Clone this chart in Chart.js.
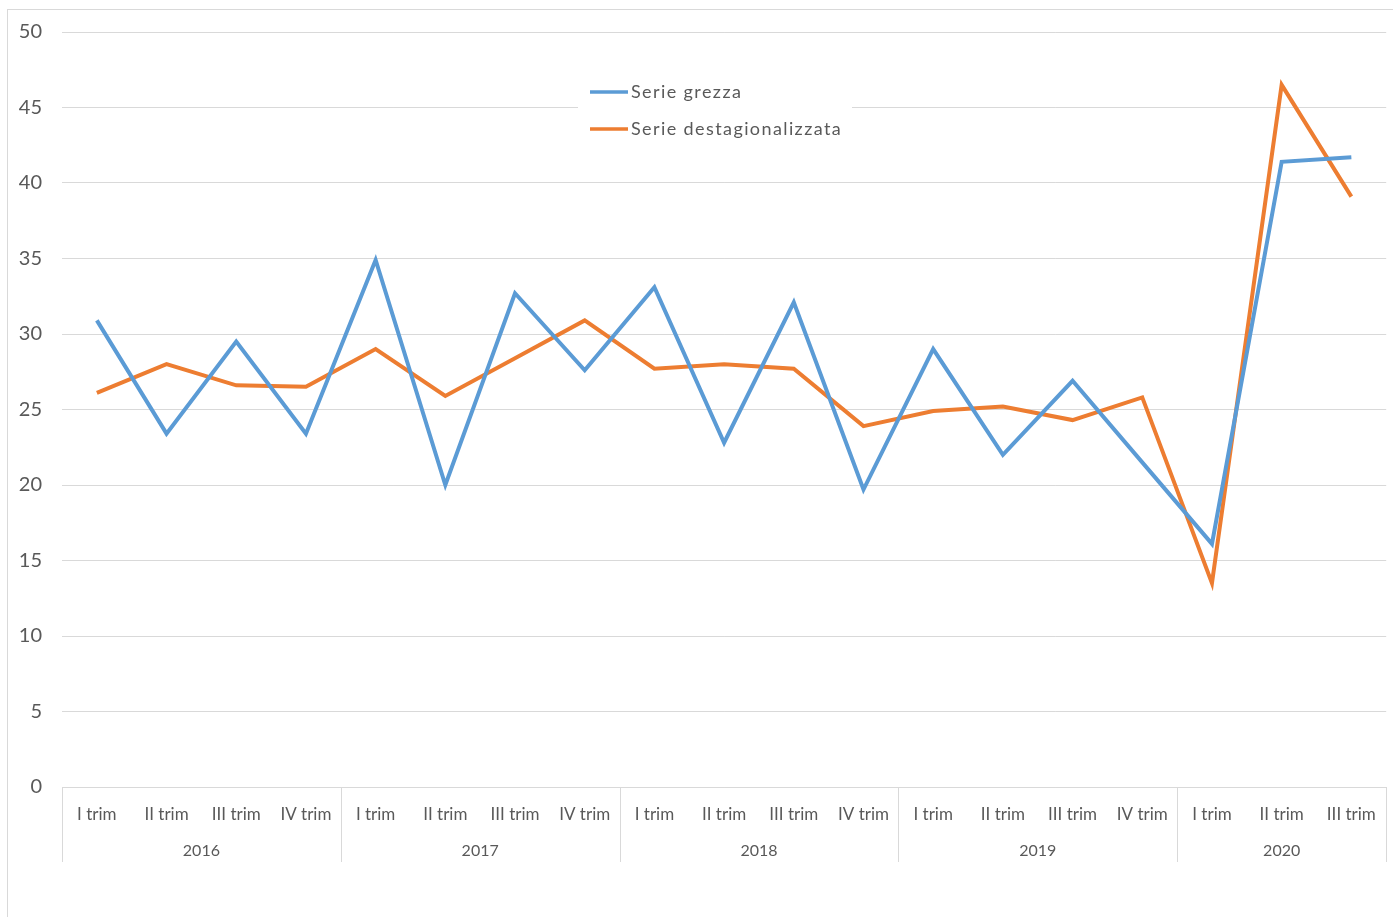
<!DOCTYPE html>
<html>
<head>
<meta charset="utf-8">
<script src="https://cdn.jsdelivr.net/npm/chart.js@4"></script>
<style>
  html, body { margin: 0; padding: 0; background: #fff; }
  #wrap { width: 1393px; height: 917px; }
</style>
</head>
<body>
<div id="wrap"><canvas id="trimChart"></canvas></div>
<script>
// Quarters and years
const quarters = ['I trim', 'II trim', 'III trim', 'IV trim',
                  'I trim', 'II trim', 'III trim', 'IV trim',
                  'I trim', 'II trim', 'III trim', 'IV trim',
                  'I trim', 'II trim', 'III trim', 'IV trim',
                  'I trim', 'II trim', 'III trim'];
const years = ['2016', '2017', '2018', '2019', '2020'];
const quartersPerYear = [4, 4, 4, 4, 3];

// Series values
const serieGrezza = [30.9, 23.4, 29.5, 23.4, 34.9, 20.0, 32.7, 27.6, 33.1, 22.8,
                     32.1, 19.7, 29.0, 22.0, 26.9, 21.5, 16.1, 41.4, 41.7];
const serieDestag = [26.1, 28.0, 26.6, 26.5, 29.0, 25.9, 28.4, 30.9, 27.7, 28.0,
                     27.7, 23.9, 24.9, 25.2, 24.3, 25.8, 13.5, 46.5, 39.1];

const textColor = '#595959';
const gridColor = '#d9d9d9';
const fontFamily = 'Lato, "Open Sans", sans-serif';

// Outer frame of the chart object
const framePlugin = {
    id: 'frame',
    beforeDraw(chart) {
        const c = chart.ctx;
        c.save();
        c.strokeStyle = gridColor;
        c.lineWidth = 1;
        c.strokeRect(7.5, 9.5, chart.width + 20, chart.height + 20);
        c.restore();
    }
};

// Year labels and separators under the quarter labels
const yearAxisPlugin = {
    id: 'yearAxis',
    afterDraw(chart) {
        const c = chart.ctx;
        const x = chart.scales.x;
        const bottom = chart.chartArea.bottom;
        const half = (x.getPixelForValue(1) - x.getPixelForValue(0)) / 2;
        c.save();
        c.strokeStyle = gridColor;
        c.lineWidth = 1;
        c.fillStyle = textColor;
        c.font = '16px ' + fontFamily;
        c.textAlign = 'center';
        c.textBaseline = 'middle';
        let idx = 0;
        years.forEach((y, i) => {
            const left = x.getPixelForValue(idx) - half;
            const right = x.getPixelForValue(idx + quartersPerYear[i] - 1) + half;
            c.beginPath();
            c.moveTo(Math.round(left) + 0.5, bottom);
            c.lineTo(Math.round(left) + 0.5, bottom + 75);
            c.stroke();
            if (i === years.length - 1) {
                c.beginPath();
                c.moveTo(Math.round(right) + 0.5, bottom);
                c.lineTo(Math.round(right) + 0.5, bottom + 75);
                c.stroke();
            }
            c.fillText(y, (left + right) / 2, bottom + 64);
            idx += quartersPerYear[i];
        });
        c.restore();
    }
};

// Legend drawn inside the plot area, stacked
const insideLegend = {
    id: 'insideLegend',
    beforeDatasetsDraw(chart) {
        const c = chart.ctx;
        c.save();
        c.fillStyle = '#fff';
        c.fillRect(578, 72, 274, 74);
        c.font = '18px ' + fontFamily;
        c.letterSpacing = '1.4px';
        c.textBaseline = 'middle';
        c.textAlign = 'left';
        chart.data.datasets.forEach((ds, i) => {
            const y = 92 + i * 37;
            c.strokeStyle = ds.borderColor;
            c.lineWidth = 3.5;
            c.beginPath();
            c.moveTo(590, y);
            c.lineTo(628, y);
            c.stroke();
            c.fillStyle = textColor;
            c.fillText(ds.label, 631, y);
        });
        c.restore();
    }
};

const ctx = document.getElementById('trimChart').getContext('2d');

const trimChart = new Chart(ctx, {
    type: 'line',
    data: {
        labels: quarters,
        datasets: [{
            label: 'Serie grezza',
            data: serieGrezza,
            borderColor: '#5B9BD5',
            borderWidth: 4,
            pointRadius: 0,
            tension: 0
        },
        {
            label: 'Serie destagionalizzata',
            data: serieDestag,
            borderColor: '#ED7D31',
            borderWidth: 4,
            pointRadius: 0,
            tension: 0
        }]
    },
    options: {
        responsive: true,
        maintainAspectRatio: false,
        animation: false,
        layout: {
            padding: { top: 31, right: 6, left: 0, bottom: 0 }
        },
        plugins: {
            legend: { display: false },
            tooltip: { enabled: false }
        },
        scales: {
            x: {
                offset: true,
                grid: { display: false, drawTicks: false },
                border: { color: gridColor },
                ticks: {
                    color: textColor,
                    font: { family: fontFamily, size: 17 },
                    padding: 17,
                    maxRotation: 0,
                    autoSkip: false
                },
                afterFit(scale) { scale.height = 130; }
            },
            y: {
                min: 0,
                max: 50,
                grid: { color: gridColor, drawTicks: false },
                border: { display: false },
                ticks: {
                    stepSize: 5,
                    color: textColor,
                    font: { family: fontFamily, size: 20 },
                    padding: 20
                },
                afterFit(scale) { scale.width = 62; }
            }
        }
    },
    plugins: [framePlugin, insideLegend, yearAxisPlugin]
});
</script>
</body>
</html>
